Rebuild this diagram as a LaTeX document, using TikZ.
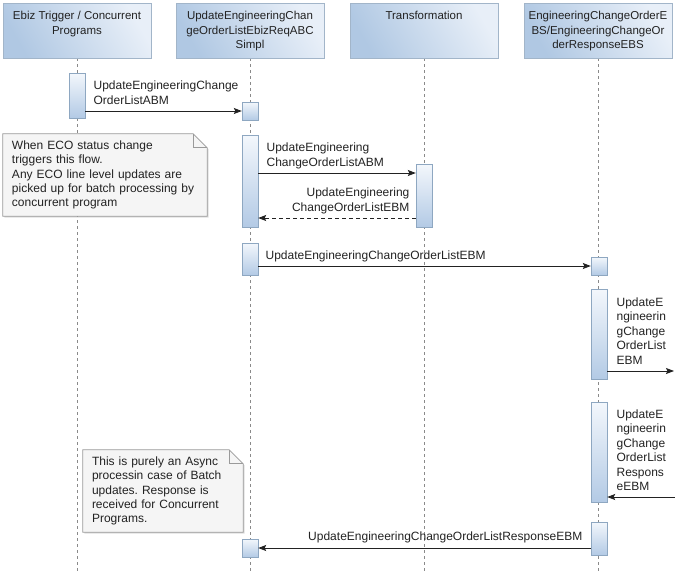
\documentclass[tikz,border=0pt]{standalone}
\usepackage{fontspec}
\setmainfont{Liberation Sans}
\usepackage{tikz}
\usetikzlibrary{arrows.meta, positioning, shadows, backgrounds}
\frenchspacing
\definecolor{hdrblue}{HTML}{B0C8E3}
\definecolor{hdrpale}{HTML}{E8EFF8}
\definecolor{hdrline}{HTML}{A2B5C9}
\definecolor{barblue}{HTML}{B3CAE5}
\definecolor{barpale}{HTML}{F3F7FC}
\definecolor{barline}{HTML}{8EA7C1}
\definecolor{notefill}{HTML}{F5F5F5}
\definecolor{noteline}{HTML}{9A9A9A}
\definecolor{msgline}{HTML}{222222}
\definecolor{lifegray}{HTML}{8A8A8A}
\tikzset{
  lifehead/.style={
    rectangle,
    minimum width=148pt,
    minimum height=55pt,
    draw=hdrline,
    left color=hdrblue,
    right color=hdrpale,
    shading angle=120,
    drop shadow={shadow xshift=1pt, shadow yshift=-1pt, opacity=0.2}
  },
  headtext/.style={inner sep=0pt, align=center, font=\fontsize{11.5}{14.5}\selectfont},
  life/.style={draw=lifegray, dash pattern=on 3pt off 3pt, line width=0.8pt},
  activation/.style={
    rectangle,
    minimum width=16pt,
    inner sep=0pt,
    draw=barline,
    top color=barpale,
    bottom color=barblue
  },
  msg/.style={draw=msgline, line width=0.8pt, -{Stealth[length=8pt, width=6pt, inset=1.5pt]}},
  reply/.style={msg, dash pattern=on 4pt off 3pt},
  msglabel/.style={inner sep=0pt, text depth=0pt, align=left, font=\fontsize{12}{14.5}\selectfont},
  notetext/.style={inner xsep=9pt, inner ysep=0pt, align=left, font=\fontsize{12}{14.3}\selectfont},
  notebox/.style={draw=noteline, fill=notefill, line width=0.8pt}
}

\begin{document}
\begin{tikzpicture}[x=1pt, y=-1pt, text=msgline]
\useasboundingbox (0,0) rectangle (675,573);

% Lifeline heads
\node (ebizHead) [lifehead] at (77,30.5) {};
\node (implHead) [lifehead] at (250,30.5) {};
\node (transHead) [lifehead] at (424,30.5) {};
\node (ebsHead) [lifehead] at (598,30.5) {};
\node (ebizName) [headtext, below=8.5pt of ebizHead.north] {Ebiz Trigger / Concurrent\\Programs};
\node (implName) [headtext, below=8.5pt of implHead.north] {UpdateEngineeringChan\\geOrderListEbizReqABC\\Simpl};
\node (transName) [headtext, below=8.5pt of transHead.north] {Transformation};
\node (ebsName) [headtext, below=8.5pt of ebsHead.north] {EngineeringChangeOrderE\\BS/EngineeringChangeOr\\derResponseEBS};

% Lifelines
\begin{scope}[on background layer]
\draw [life] (ebizHead.south) -- (ebizHead.south |- 0,573);
\draw [life] (implHead.south) -- (implHead.south |- 0,573);
\draw [life] (transHead.south) -- (transHead.south |- 0,573);
\draw [life] (ebsHead.south) -- (ebsHead.south |- 0,573);
\end{scope}

% Activations
\node (ebizA) [activation, minimum height=45pt] at (77,95.5) {};
\node (implA) [activation, minimum height=18pt] at (250,111) {};
\node (implB) [activation, minimum height=92pt] at (250,181) {};
\node (transA) [activation, minimum height=63pt] at (424,195.5) {};
\node (implC) [activation, minimum height=32pt] at (250,259) {};
\node (ebsA) [activation, minimum height=18pt] at (599,266) {};
\node (ebsB) [activation, minimum height=90pt] at (599,334) {};
\node (ebsC) [activation, minimum height=100pt] at (599,452) {};
\node (ebsD) [activation, minimum height=33pt] at (599,538.5) {};
\node (implD) [activation, minimum height=18pt] at (250,548) {};
\coordinate (rimOut) at (674,371);
\coordinate (rimIn) at (675,497);

% Messages
\draw [msg] (ebizA.east |- implA.west) -- node[msglabel, pos=0, anchor=south west, xshift=8pt, yshift=6.5pt] {UpdateEngineeringChange\\OrderListABM} (implA.west);
\draw [msg] (implB.east |- 0,173) -- node[msglabel, pos=0, anchor=south west, xshift=8pt, yshift=6.5pt] {UpdateEngineering\\ChangeOrderListABM} (transA.west |- 0,173);
\draw [reply] (transA.west |- 0,218) -- node[msglabel, align=right, pos=0, anchor=south east, xshift=-6pt, yshift=6.5pt] {UpdateEngineering\\ChangeOrderListEBM} (implB.east |- 0,218);
\draw [msg] (implC.east |- ebsA.west) -- node[msglabel, pos=0, anchor=south west, xshift=7pt, yshift=6.5pt] {UpdateEngineeringChangeOrderListEBM} (ebsA.west);
\draw [msg] (ebsB.east |- rimOut) -- node[msglabel, pos=0, anchor=south west, xshift=9pt, yshift=6.5pt] {UpdateE\\ngineerin\\gChange\\OrderList\\EBM} (rimOut);
\draw [msg] (rimIn) -- node[msglabel, pos=1, anchor=south west, xshift=9pt, yshift=6pt] {UpdateE\\ngineerin\\gChange\\OrderList\\Respons\\eEBM} (ebsC.east |- rimIn);
\draw [msg] (ebsD.west |- implD.east) -- node[msglabel, align=right, pos=0, anchor=south east, xshift=-8pt, yshift=7.5pt] {UpdateEngineeringChangeOrderListResponseEBM} (implD.east);

% Notes
\node (ecoNote) [notetext, minimum width=204pt, minimum height=82pt, text width=186pt] at (105,175) {When ECO status change\\triggers this flow.\\Any ECO line level updates are\\picked up for batch processing by\\concurrent program};
\node (asyncNote) [notetext, minimum width=160pt, minimum height=82pt, text width=142pt] at (163,491) {This is purely an Async\\processin case of Batch\\updates. Response is\\received for Concurrent\\Programs.};
\begin{scope}[on background layer]
\foreach \nt in {ecoNote, asyncNote} {
  \draw [notebox, drop shadow={shadow xshift=1.5pt, shadow yshift=-1.5pt, opacity=0.25}]
    (\nt.north west) -- ([xshift=-14pt]\nt.north east) -- ([yshift=-14pt]\nt.north east)
    -- (\nt.south east) -- (\nt.south west) -- cycle;
  \draw [draw=noteline, line width=0.8pt] ([xshift=-14pt]\nt.north east) |- ([yshift=-14pt]\nt.north east);
}
\end{scope}
\end{tikzpicture}
\end{document}
